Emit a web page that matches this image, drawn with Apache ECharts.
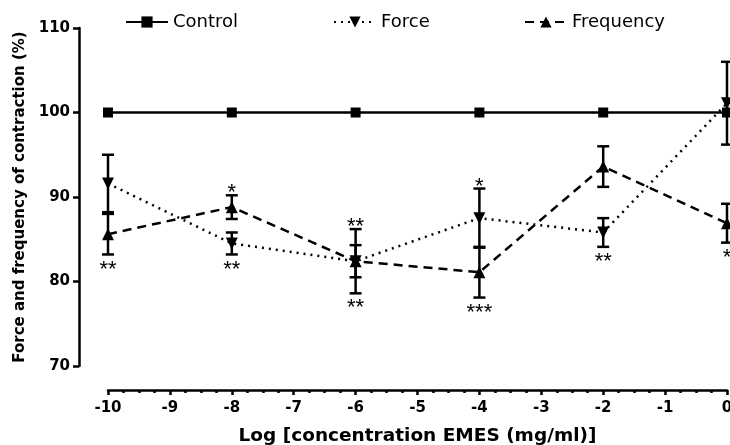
<!DOCTYPE html>
<html>
<head>
<meta charset="utf-8">
<script src="https://cdn.jsdelivr.net/npm/echarts@6/dist/echarts.min.js"></script>
<style>
  html, body { margin: 0; padding: 0; background: #fff; }
  #chart { width: 730px; height: 445px; }
</style>
</head>
<body>
<div id="chart"></div>
<script>
// log concentration (x) and % values
const xs = [-10, -8, -6, -4, -2, 0]
const control = [100, 100, 100, 100, 100, 100]
const force = [91.6, 84.5, 82.4, 87.5, 85.8, 101.1]
const forceErr = [3.4, 1.3, 1.9, 3.5, 1.7, 4.9]
const freq = [85.6, 88.8, 82.4, 81.1, 93.6, 86.9]
const freqErr = [2.4, 1.4, 3.8, 3.0, 2.4, 2.3]

// significance marks, placed at the outermost error cap at that x
const sigX = [-10, -8, -8, -6, -6, -4, -4, -2, 0]
const sigText = ['**', '*', '**', '**', '**', '*', '***', '**', '*']
const sigSide = ['below', 'above', 'below', 'above', 'below', 'above', 'below', 'below', 'below']

const yTicks = [70, 80, 90, 100, 110]
const xTicks = [-10, -9, -8, -7, -6, -5, -4, -3, -2, -1, 0]

const black = '#000'
const boldFont = 'DejaVu Sans'

function capEnd(x, side) {
  const i = xs.indexOf(x)
  if (side === 'above') return Math.max(force[i] + forceErr[i], freq[i] + freqErr[i])
  return Math.min(force[i] - forceErr[i], freq[i] - freqErr[i])
}

function errBars(name, vals, errs) {
  return {
    name: name,
    type: 'custom',
    clip: false,
    z: 1,
    data: xs.map((x, i) => [x, vals[i] - errs[i], vals[i] + errs[i]]),
    renderItem: function (params, api) {
      const lo = api.coord([api.value(0), api.value(1)])
      const hi = api.coord([api.value(0), api.value(2)])
      const w = 6
      const st = { stroke: black, lineWidth: 2.5 }
      return {
        type: 'group',
        children: [
          { type: 'line', shape: { x1: lo[0], y1: lo[1], x2: hi[0], y2: hi[1] }, style: st },
          { type: 'line', shape: { x1: lo[0] - w, y1: lo[1], x2: lo[0] + w, y2: lo[1] }, style: st },
          { type: 'line', shape: { x1: hi[0] - w, y1: hi[1], x2: hi[0] + w, y2: hi[1] }, style: st },
        ],
      }
    },
  }
}

let mychart = echarts.init(document.getElementById('chart'))
mychart.setOption({
  animation: false,
  grid: { left: 108, right: 3, top: 28, bottom: 79, outerBoundsMode: 'none', containLabel: false },
  legend: [
    { data: ['Control'], left: 120, top: 8 },
    { data: ['Force'], left: 328, top: 8 },
    { data: ['Frequency'], left: 519, top: 8 },
  ].map((l) => Object.assign(l, {
    itemWidth: 42,
    itemHeight: 14,
    itemStyle: { borderWidth: 0 },
    textStyle: { fontFamily: 'DejaVu Sans', fontSize: 18, color: black },
  })),
  xAxis: {
    type: 'value',
    min: -10,
    max: 0,
    interval: 1,
    offset: 24,
    name: 'Log [concentration EMES (mg/ml)]',
    nameLocation: 'middle',
    nameGap: 37,
    nameTextStyle: { fontFamily: boldFont, fontWeight: 'bold', fontSize: 18.5, color: black },
    axisLine: { onZero: false, lineStyle: { color: black, width: 2.5 } },
    axisTick: { length: 5, lineStyle: { color: black, width: 2.5 } },
    minorTick: { show: true, splitNumber: 4, length: 3, lineStyle: { color: black, width: 2.5 } },
    axisLabel: {
      margin: 11,
      fontFamily: boldFont,
      fontWeight: 'bold',
      fontSize: 15,
      color: black,
      formatter: (v) => (xTicks.includes(v) ? String(v) : ''),
    },
    splitLine: { show: false },
  },
  yAxis: {
    type: 'value',
    min: 70,
    max: 110,
    interval: 10,
    offset: 29,
    name: 'Force and frequency of contraction (%)',
    nameLocation: 'middle',
    nameGap: 50,
    nameTextStyle: { fontFamily: boldFont, fontWeight: 'bold', fontSize: 15, color: black },
    axisLine: { show: true, onZero: false, lineStyle: { color: black, width: 2.5 } },
    axisTick: { show: true, length: 6, lineStyle: { color: black, width: 2.5 } },
    axisLabel: {
      margin: 9,
      fontFamily: boldFont,
      fontWeight: 'bold',
      fontSize: 15,
      color: black,
      formatter: (v) => (yTicks.includes(v) ? String(v) : ''),
    },
    splitLine: { show: false },
  },
  series: [
    errBars('forceErr', force, forceErr),
    errBars('freqErr', freq, freqErr),
    {
      name: 'Control',
      type: 'line',
      z: 3,
      data: xs.map((x, i) => [x, control[i]]),
      symbol: 'rect',
      symbolSize: 10,
      lineStyle: { color: black, width: 2.5 },
      itemStyle: { color: black },
    },
    {
      name: 'Force',
      type: 'line',
      z: 3,
      data: xs.map((x, i) => [x, force[i]]),
      symbol: 'triangle',
      symbolRotate: 180,
      symbolSize: 12,
      lineStyle: { color: black, width: 2.5, type: [2, 5] },
      itemStyle: { color: black },
    },
    {
      name: 'Frequency',
      type: 'line',
      z: 3,
      data: xs.map((x, i) => [x, freq[i]]),
      symbol: 'triangle',
      symbolSize: 12,
      lineStyle: { color: black, width: 2.5, type: [9, 6] },
      itemStyle: { color: black },
    },
    {
      name: 'sig',
      type: 'custom',
      clip: false,
      z: 4,
      data: sigX.map((x, i) => [x, capEnd(x, sigSide[i]), i]),
      renderItem: function (params, api) {
        const i = api.value(2)
        const p = api.coord([api.value(0), api.value(1)])
        const above = sigSide[i] === 'above'
        return {
          type: 'text',
          x: p[0],
          y: above ? p[1] + 9 : p[1] + 4,
          style: {
            text: sigText[i],
            fontFamily: 'Liberation Sans',
            fontSize: 22,
            fill: black,
            align: 'center',
            verticalAlign: above ? 'bottom' : 'top',
          },
        }
      },
    },
  ],
})
</script>
</body>
</html>
